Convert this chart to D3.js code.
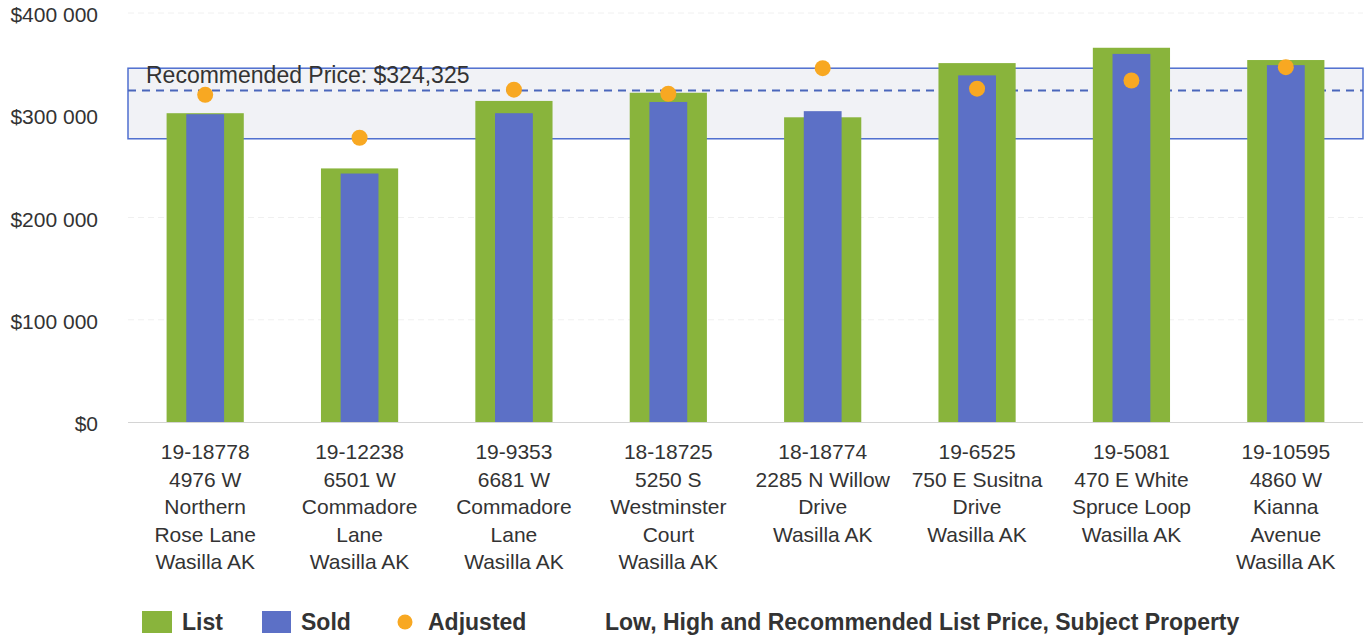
<!DOCTYPE html>
<head>
<meta charset="utf-8">
<title>List vs Sold vs Adjusted</title>
<script src="https://d3js.org/d3.v7.min.js"></script>
<style>
  body { margin: 0; background: #fff; }
  text { font-family: "Liberation Sans", Arial, sans-serif; fill: #333; }
</style>
</head>
<body>
<div id="chart"></div>
<script>
// data
var properties = [
  ["19-18778", "4976 W", "Northern", "Rose Lane", "Wasilla AK"],
  ["19-12238", "6501 W", "Commadore", "Lane", "Wasilla AK"],
  ["19-9353", "6681 W", "Commadore", "Lane", "Wasilla AK"],
  ["18-18725", "5250 S", "Westminster", "Court", "Wasilla AK"],
  ["18-18774", "2285 N Willow", "Drive", "Wasilla AK"],
  ["19-6525", "750 E Susitna", "Drive", "Wasilla AK"],
  ["19-5081", "470 E White", "Spruce Loop", "Wasilla AK"],
  ["19-10595", "4860 W", "Kianna", "Avenue", "Wasilla AK"]
];
var listPrice     = [302000, 248000, 314000, 322000, 298000, 351000, 366000, 354000];
var soldPrice     = [301000, 243000, 302000, 313000, 304000, 339000, 360000, 349000];
var adjustedPrice = [320000, 278000, 325000, 321000, 346000, 326000, 334000, 347000];
var lowPrice = 277000, highPrice = 346000, recommendedPrice = 324325;
var yTicks = [0, 100000, 200000, 300000, 400000];

var W = 1367, H = 638;
var plotLeft = 128, plotRight = 1363, plotTop = 13, plotBottom = 422;

var svg = d3.select("#chart").append("svg")
  .attr("width", W).attr("height", H);

var ids = properties.map(function(p, i) { return "p" + i; });
var x = d3.scaleBand().domain(ids).range([plotLeft, plotRight])
  .paddingInner(0.5).paddingOuter(0.25);
var y = d3.scaleLinear().domain([0, 400000]).range([plotBottom, plotTop]);

var green = "#89b43c", blue = "#5c70c6", orange = "#f8a822", lineBlue = "#4f6fcf";

// faint grid
svg.append("g").selectAll("line").data(yTicks.slice(1)).enter().append("line")
  .attr("x1", plotLeft).attr("x2", plotRight)
  .attr("y1", function(d) { return y(d); }).attr("y2", function(d) { return y(d); })
  .attr("stroke", "#f0f0f0").attr("stroke-width", 1).attr("stroke-dasharray", "6,4");

// y tick labels
var fmt = function(v) { return "$" + d3.format(",")(v).replace(/,/g, " "); };
svg.append("g").selectAll("text").data(yTicks).enter().append("text")
  .attr("x", 98).attr("y", function(d) { return y(d) + 9; })
  .attr("text-anchor", "end").attr("font-size", "21px")
  .text(fmt);

// baseline
svg.append("line").attr("x1", plotLeft).attr("x2", plotRight)
  .attr("y1", y(0) + 0.5).attr("y2", y(0) + 0.5)
  .attr("stroke", "#d4d4d4").attr("stroke-width", 1);

// low/high band
svg.append("rect")
  .attr("x", plotLeft).attr("width", plotRight - plotLeft)
  .attr("y", y(highPrice)).attr("height", y(lowPrice) - y(highPrice))
  .attr("fill", "#f1f2f6").attr("stroke", lineBlue).attr("stroke-width", 1.5);

svg.append("line")
  .attr("x1", plotLeft).attr("x2", plotRight)
  .attr("y1", y(recommendedPrice)).attr("y2", y(recommendedPrice))
  .attr("stroke", "#4a66bb").attr("stroke-width", 2).attr("stroke-dasharray", "8,6");

svg.append("text")
  .attr("x", 146).attr("y", y(highPrice) + 15)
  .attr("font-size", "23px").attr("fill", "#333")
  .text("Recommended Price: $" + d3.format(",")(recommendedPrice));

// bars
svg.append("g").selectAll("rect").data(listPrice).enter().append("rect")
  .attr("x", function(d, i) { return x(ids[i]); })
  .attr("width", x.bandwidth())
  .attr("y", function(d) { return y(d); })
  .attr("height", function(d) { return y(0) - y(d); })
  .attr("fill", green);

var inner = x.bandwidth() * 0.49;
svg.append("g").selectAll("rect").data(soldPrice).enter().append("rect")
  .attr("x", function(d, i) { return x(ids[i]) + (x.bandwidth() - inner) / 2; })
  .attr("width", inner)
  .attr("y", function(d) { return y(d); })
  .attr("height", function(d) { return y(0) - y(d); })
  .attr("fill", blue);

svg.append("g").selectAll("circle").data(adjustedPrice).enter().append("circle")
  .attr("cx", function(d, i) { return x(ids[i]) + x.bandwidth() / 2; })
  .attr("cy", function(d) { return y(d); })
  .attr("r", 8).attr("fill", orange);

// category labels
var lbl = svg.append("g").selectAll("text").data(properties).enter().append("text")
  .attr("text-anchor", "middle").attr("font-size", "21px")
  .attr("x", function(d, i) { return x(ids[i]) + x.bandwidth() / 2; })
  .attr("y", 459);
lbl.selectAll("tspan").data(function(d) { return d; }).enter().append("tspan")
  .attr("x", function() { return d3.select(this.parentNode).attr("x"); })
  .attr("dy", function(d, i) { return i === 0 ? 0 : 27.5; })
  .text(function(d) { return d; });

// legend
var lg = svg.append("g").attr("font-size", "23px").attr("font-weight", "bold");
lg.append("rect").attr("x", 142).attr("y", 611).attr("width", 30).attr("height", 22).attr("fill", green);
lg.append("text").attr("x", 182).attr("y", 630).text("List");
lg.append("rect").attr("x", 262).attr("y", 611).attr("width", 29).attr("height", 22).attr("fill", blue);
lg.append("text").attr("x", 301).attr("y", 630).text("Sold");
lg.append("circle").attr("cx", 405).attr("cy", 622).attr("r", 7.5).attr("fill", orange);
lg.append("text").attr("x", 428).attr("y", 630).text("Adjusted");
lg.append("text").attr("x", 605).attr("y", 630).text("Low, High and Recommended List Price, Subject Property");
</script>
</body>
